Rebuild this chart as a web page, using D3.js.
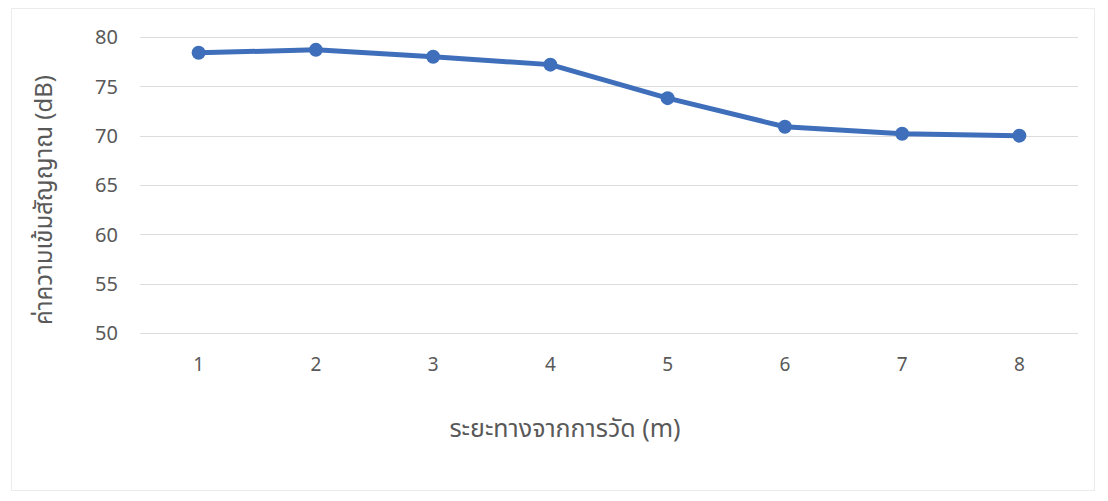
<!DOCTYPE html>
<html>
<head>
<meta charset="utf-8">
<script src="https://cdn.jsdelivr.net/npm/d3@7/dist/d3.min.js"></script>
<style>
  html, body { margin: 0; padding: 0; background: #ffffff; }
  svg { display: block; }
  text { font-family: "Noto Sans", "Noto Sans Thai", "Open Sans", sans-serif; }
</style>
</head>
<body>
<svg id="chart" width="1108" height="501"></svg>
<script>
// Signal strength vs. measuring distance
const distances = ["1", "2", "3", "4", "5", "6", "7", "8"];
const signalDb = [78.4, 78.7, 78.0, 77.2, 73.8, 70.9, 70.2, 70.0];
const yTicks = [50, 55, 60, 65, 70, 75, 80];
const xTitle = "ระยะทางจากการวัด (m)";
const yTitle = "ค่าความเข้มสัญญาณ (dB)";

const plot = { left: 140, right: 1078, top: 37, bottom: 333 };

const svg = d3.select("#chart");

// faint outer frame of the chart area
svg.append("rect")
  .attr("x", 11.5).attr("y", 8.5)
  .attr("width", 1083).attr("height", 482)
  .attr("fill", "#ffffff")
  .attr("stroke", "#ececec").attr("stroke-width", 1);

const x = d3.scaleBand()
  .domain(distances)
  .range([plot.left, plot.right]);

const y = d3.scaleLinear()
  .domain([50, 80])
  .range([plot.bottom, plot.top]);

// horizontal gridlines
svg.append("g")
  .selectAll("line")
  .data(yTicks)
  .join("line")
  .attr("x1", plot.left).attr("x2", plot.right)
  .attr("y1", d => Math.round(y(d)) + 0.5)
  .attr("y2", d => Math.round(y(d)) + 0.5)
  .attr("stroke", "#dcdcdc").attr("stroke-width", 1);

// y axis labels
const yAxis = d3.axisLeft(y).tickValues(yTicks).tickSize(0).tickPadding(0);
const gy = svg.append("g")
  .attr("transform", `translate(${plot.left - 22},0)`)
  .call(yAxis);
gy.select(".domain").remove();
gy.selectAll("text")
  .attr("fill", "#595959")
  .style("font-size", "20px")
  .attr("dy", "0.34em");

// x axis labels
const xAxis = d3.axisBottom(x).tickSize(0).tickPadding(0);
const gx = svg.append("g")
  .attr("transform", `translate(0,${plot.bottom + 24})`)
  .call(xAxis);
gx.select(".domain").remove();
gx.selectAll("text")
  .attr("fill", "#595959")
  .style("font-size", "19px")
  .attr("dy", "0.71em");

// axis titles
svg.append("text")
  .attr("x", 565).attr("y", 437)
  .attr("text-anchor", "middle")
  .attr("fill", "#595959")
  .style("font-size", "25px")
  .text(xTitle);

svg.append("text")
  .attr("transform", `translate(52,200) rotate(-90)`)
  .attr("text-anchor", "middle")
  .attr("fill", "#595959")
  .style("font-size", "24px")
  .text(yTitle);

// data series
const pts = distances.map((d, i) => ({ d, v: signalDb[i] }));
const cx = d => x(d.d) + x.bandwidth() / 2;

svg.append("path")
  .datum(pts)
  .attr("fill", "none")
  .attr("stroke", "#3f6fbb")
  .attr("stroke-width", 5)
  .attr("stroke-linejoin", "round")
  .attr("d", d3.line().x(cx).y(d => y(d.v)));

svg.append("g")
  .selectAll("circle")
  .data(pts)
  .join("circle")
  .attr("cx", cx)
  .attr("cy", d => y(d.v))
  .attr("r", 7)
  .attr("fill", "#3f6fbb");
</script>
</body>
</html>
